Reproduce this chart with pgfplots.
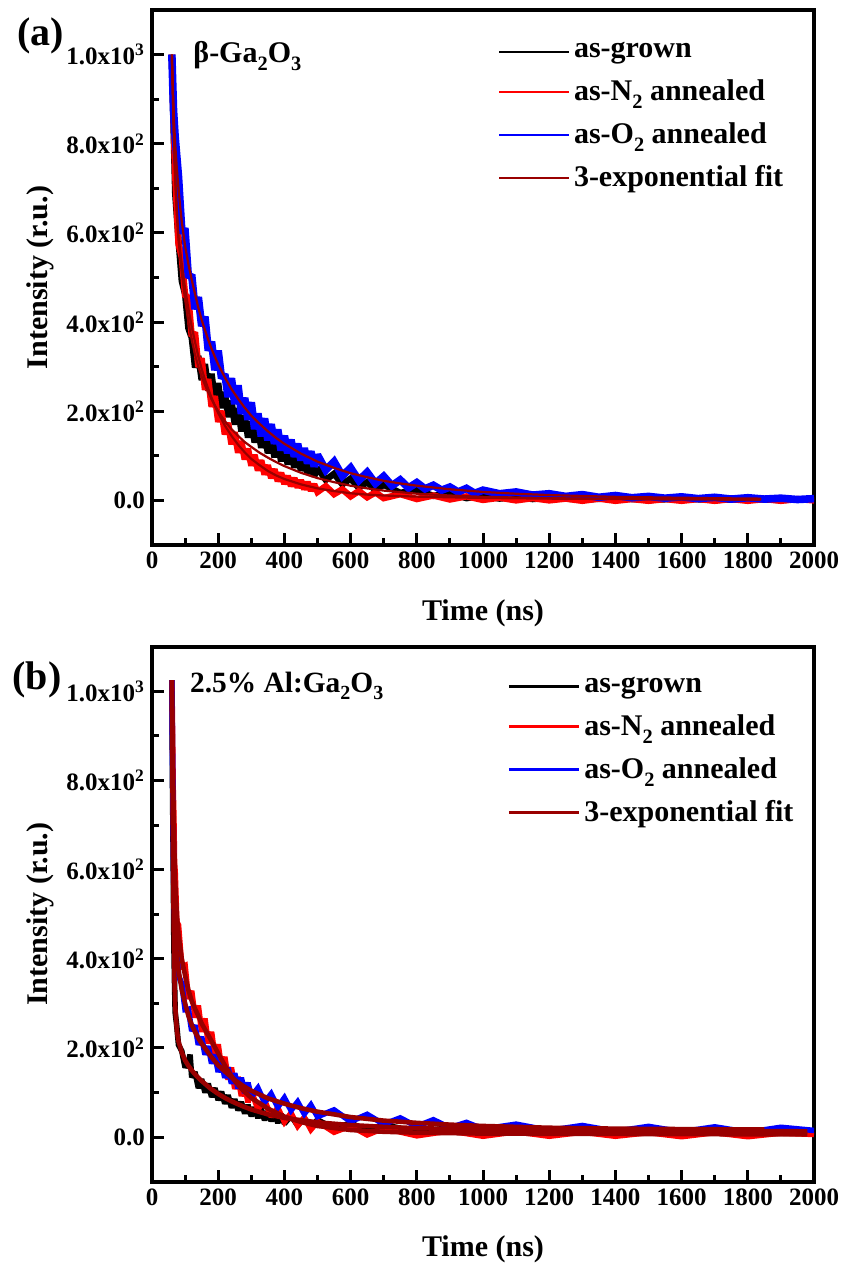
\documentclass[border=0pt]{standalone}
\usepackage{pgfplots}
\pgfplotsset{compat=1.18}
\usepackage{graphicx}
\usepackage{fontspec}
\setmainfont{Liberation Serif}
\usetikzlibrary{calc}
\definecolor{fitred}{rgb}{0.6,0,0}
\newcommand{\sub}[1]{\raisebox{-0.55ex}{\scalebox{0.68}{#1}}}
\pgfplotsset{
  tlbase/.style={
    scale only axis, width=331pt, height=267.5pt,
    xmin=0, xmax=2000, ymin=-100, ymax=1100,
    xtick={0,200,...,2000}, minor x tick num=1,
    ytick={0,200,400,600,800,1000}, minor y tick num=1,
    yticklabels={0.0,2.0x10\textsuperscript{2},4.0x10\textsuperscript{2},6.0x10\textsuperscript{2},8.0x10\textsuperscript{2},1.0x10\textsuperscript{3}},
    tick pos=left, tick align=inside,
    axis line style={line width=1.8pt},
    major tick length=6pt, minor tick length=3.5pt,
    every tick/.style={black, line width=1.5pt},
    /pgf/number format/assume math mode=true,
    /pgf/number format/1000 sep={},
    tick label style={font=\fontsize{12.5}{15}\selectfont\bfseries},
    xlabel={Time (ns)}, ylabel={Intensity (r.u.)},
    label style={font=\fontsize{15}{18}\selectfont\bfseries},
    xlabel style={at={(rel axis cs:0.5,-0.127)}, anchor=center},
    ylabel style={at={(rel axis cs:-0.169,0.5)}, anchor=center},
    legend style={draw=none, fill=none, font=\fontsize{15}{18}\selectfont\bfseries,
      row sep=5.5pt, nodes={inner sep=2pt}},
    legend cell align=left,
    data/.style={line width=3.2pt, line join=miter, miter limit=2},
    fit/.style={fitred, line join=round},
  }
}
\begin{document}
\begin{tikzpicture}
\begin{axis}[tlbase, name=a,
  legend style={at={(rel axis cs:0.513,0.955)}, anchor=north west},
  legend image code/.code={\draw[#1, line width=1pt] (0pt,0pt) -- (35pt,0pt);}]
% as-grown
\addplot[black, data] coordinates {
(60,1000)(65,840)(70,690)(80,585)(90,492)(100,462)(110,386)(120,365)(130,298)(140,324)
(150,270)(160,306)(170,246)(180,284)(190,224)(200,263)(210,207)(220,243)(230,187)(240,224)
(250,170)(260,207)(270,155)(280,190)(290,141)(300,177)(310,130)(320,163)(330,118)(340,149)
(350,106)(360,137)(370,97)(380,126)(390,88)(400,116)(410,81)(420,107)(430,74)(440,98)
(450,67)(460,89)(470,60)(480,81)(490,54)(500,73)(525,46)(550,60)(575,36)(600,49)
(625,28)(650,41)(675,23)(700,35)(750,17)(800,24)(850,10)(900,17)(950,5)(1000,11)
(1050,4)(1100,8)(1150,3)(1200,6)(1300,2)(1400,5)(1500,1)(1600,4)(1700,1)(1800,3)(1900,1)(2000,3)};
\addlegendentry{as-grown}
% N2
\addplot[red, data] coordinates {
(60,1000)(65,860)(70,730)(80,575)(90,545)(100,460)(110,455)(120,368)(130,377)(140,299)
(150,319)(160,248)(170,272)(180,210)(190,234)(200,176)(210,201)(220,148)(230,174)(240,126)
(250,153)(260,107)(270,133)(280,92)(290,116)(300,78)(310,102)(320,67)(330,90)(340,58)
(350,79)(360,50)(370,70)(380,43)(390,62)(400,37)(410,55)(420,32)(430,50)(440,29)
(450,45)(460,25)(470,41)(480,22)(490,36)(500,19)(525,32)(550,14)(575,25)(600,9)
(625,21)(650,7)(675,18)(700,5)(750,14)(800,3)(850,11)(900,2)(950,9)(1000,1)
(1050,6)(1100,0)(1150,5)(1200,0)(1250,4)(1300,-1)(1350,4)(1400,-1)(1450,3)(1500,-1)
(1550,3)(1600,-1)(1650,3)(1700,-1)(1750,3)(1800,-1)(1850,3)(1900,-1)(1950,3)(2000,0)};
\addlegendentry{as-N\sub{2} annealed}
% O2
\addplot[blue, data, line width=3.8pt] coordinates {
(60,1000)(65,875)(70,815)(80,727)(90,605)(100,604)(110,500)(120,506)(130,429)(140,456)
(150,391)(160,412)(170,336)(180,356)(190,292)(200,336)(210,274)(220,283)(230,232)(240,274)
(250,216)(260,258)(270,194)(280,230)(290,181)(300,220)(310,160)(320,195)(330,144)(340,184)
(350,135)(360,171)(370,127)(380,159)(390,112)(400,145)(410,106)(420,136)(430,98)(440,127)
(450,90)(460,117)(470,83)(480,110)(490,76)(500,102)(525,68)(550,87)(575,55)(600,73)
(625,45)(650,63)(675,38)(700,54)(725,33)(750,46)(775,28)(800,40)(825,26)(850,34)
(875,23)(900,30)(925,19)(950,27)(975,16)(1000,23)(1050,15)(1100,19)(1150,12)(1200,15)
(1250,9)(1300,13)(1350,7)(1400,11)(1450,6)(1500,9)(1550,5)(1600,8)(1650,4)(1700,7)
(1750,3)(1800,6)(1850,3)(1900,5)(1950,2)(2000,4)};
\addlegendentry{as-O\sub{2} annealed}
% fits
\addplot[fit, line width=1.1pt] coordinates {
(60,1000)(65,850)(70,715)(75,640)(80,585)(90,510)(100,450)(110,400)(120,360)(130,327)
(140,300)(150,278)(160,259)(170,242)(180,227)(190,213)(200,200)(220,178)(240,160)(260,145)
(280,131)(300,120)(325,107)(350,96)(375,86)(400,77)(450,62)(500,50)(550,41)(600,33)
(650,27)(700,22)(800,15)(900,11)(1000,8)(1200,5)(1400,3.5)(1600,2.5)(1840,2)};
\addlegendentry{3-exponential fit}
\addplot[fit, line width=1.1pt, forget plot] coordinates {
(60,1000)(65,850)(70,730)(75,650)(80,592)(90,530)(100,475)(110,430)(120,390)(130,355)
(140,323)(150,295)(160,271)(170,250)(180,230)(190,212)(200,196)(220,168)(240,145)(260,125)
(280,108)(300,93)(325,79)(350,66)(375,56)(400,48)(450,36)(500,27)(550,21)(600,16)
(650,13)(700,11)(800,8.5)(900,7)(1000,5.5)(1200,4)(1400,3)(1600,2.5)(1840,2)};
\addplot[fit, line width=1.1pt, forget plot] coordinates {
(60,1000)(63,930)(66,860)(70,800)(75,745)(80,700)(85,660)(90,625)(100,570)(110,530)
(120,495)(130,463)(140,432)(150,405)(160,382)(170,360)(180,340)(190,322)(200,305)(220,276)
(240,250)(260,228)(280,208)(300,190)(325,172)(350,155)(375,140)(400,127)(450,105)(500,87)
(550,73)(600,61)(650,52)(700,44)(750,38)(800,33)(900,25)(1000,19)(1100,15)(1200,12)
(1300,10)(1400,8)(1500,7)(1600,6)(1700,5)(1840,4)};
\node[anchor=base west, font=\fontsize{15}{18}\selectfont\bfseries, inner sep=0pt] at (rel axis cs:0.062,0.901) {β-Ga\sub{2}O\sub{3}};
\end{axis}

\begin{axis}[tlbase, name=b, at={($(a.south west)+(0,-50.85pt)$)}, anchor=north west,
  legend style={at={(rel axis cs:0.527,0.958)}, anchor=north west},
  legend image code/.code={\draw[#1, line width=1.5pt] (0pt,0pt) -- (35pt,0pt);}]
\addplot[black, data, line width=2.8pt] coordinates {
(60,1025)(62,790)(64,630)(66,440)(68,350)(70,280)(75,248)(80,207)(90,193)(100,156)
(110,170)(115,185)(120,134)(130,146)(140,110)(150,130)(160,100)(170,120)(180,90)(190,110)
(200,83)(210,102)(220,75)(230,94)(240,66)(250,85)(260,60)(270,79)(280,53)(290,72)
(300,47)(310,67)(320,43)(330,63)(340,38)(350,58)(360,36)(370,54)(380,32)(390,52)
(400,30)(420,48)(440,26)(460,43)(480,23)(500,39)(550,19)(600,32)(650,14)(700,28)
(800,12)(900,21)(1000,10)(1100,18)(1200,9)(1300,17)(1400,8)(1500,16)(1600,8)(1700,16)
(1800,7)(1900,15)(2000,12)};
\addlegendentry{as-grown}
\addplot[red, data, line width=2.8pt] coordinates {
(60,1025)(62,910)(64,780)(66,720)(68,615)(70,595)(75,482)(80,476)(90,382)(100,385)
(110,310)(120,328)(130,268)(140,295)(150,236)(160,266)(170,210)(180,236)(190,181)(200,208)
(210,155)(220,180)(230,129)(240,156)(250,108)(260,135)(270,92)(280,118)(290,78)(300,104)
(320,62)(340,83)(360,46)(380,66)(400,34)(420,54)(440,25)(460,44)(480,17)(500,35)
(550,11)(600,25)(650,5)(700,20)(800,3)(900,14)(1000,2)(1100,12)(1200,2)(1300,11)
(1400,2)(1500,10)(1600,1)(1700,10)(1800,1)(1900,9)(2000,6)};
\addlegendentry{as-N\sub{2} annealed}
\addplot[blue, data, line width=2.8pt] coordinates {
(60,1025)(62,840)(64,700)(66,560)(68,505)(70,445)(75,418)(80,362)(90,344)(100,286)
(110,287)(120,238)(130,251)(140,207)(150,225)(160,185)(170,204)(180,165)(190,185)(200,146)
(210,169)(220,133)(230,156)(240,120)(250,143)(260,109)(270,133)(280,99)(290,122)(300,91)
(320,110)(340,78)(360,97)(380,67)(400,88)(420,60)(440,79)(460,52)(480,72)(500,46)
(550,61)(600,35)(650,51)(700,29)(750,43)(800,24)(850,39)(900,21)(950,33)(1000,18)
(1100,29)(1200,15)(1300,26)(1400,13)(1500,24)(1600,12)(1700,23)(1800,11)(1900,22)(2000,15)};
\addlegendentry{as-O\sub{2} annealed}
\addplot[fit, line width=2.3pt] coordinates {
(60,1025)(62,780)(64,590)(66,450)(68,350)(70,295)(75,240)(80,215)(90,190)(100,172)
(110,160)(120,150)(130,141)(140,133)(150,126)(175,110)(200,97)(225,86)(250,77)(275,69)
(300,62)(350,51)(400,43)(500,33)(600,27)(700,23)(800,20)(1000,17)(1200,15)(1500,14)(1980,13)};
\addlegendentry{3-exponential fit}
\addplot[fit, line width=2.3pt, forget plot] coordinates {
(60,1025)(62,900)(64,790)(66,700)(68,630)(70,575)(75,500)(80,455)(90,400)(100,362)
(110,330)(120,305)(130,288)(140,272)(150,255)(175,222)(200,188)(225,154)(250,126)(275,105)
(300,88)(350,64)(400,46)(450,34)(500,25)(600,16)(700,12)(800,10)(1000,8)(1200,7.5)(1500,7)(1980,6)};
\addplot[fit, line width=2.3pt, forget plot] coordinates {
(60,1025)(62,850)(64,690)(66,570)(68,495)(70,455)(75,405)(80,375)(90,330)(100,300)
(110,272)(120,252)(130,236)(140,222)(150,210)(175,184)(200,161)(225,144)(250,128)(275,115)
(300,104)(350,87)(400,75)(450,65)(500,57)(600,45)(700,37)(800,32)(900,28)(1000,25)
(1200,21)(1400,19)(1600,18)(1850,17)};
\node[anchor=base west, font=\fontsize{14.7}{18}\selectfont\bfseries, inner sep=0pt] at (rel axis cs:0.057,0.915) {2.5\% Al:Ga\sub{2}O\sub{3}};
\end{axis}
\node[font=\fontsize{20}{24}\selectfont\bfseries, inner sep=0pt] at ($(a.north west)+(-55.5pt,-13pt)$) {(a)};
\node[font=\fontsize{20}{24}\selectfont\bfseries, inner sep=0pt] at ($(b.north west)+(-57.5pt,-16.7pt)$) {(b)};
\pgfresetboundingbox
\path ($(a.north west)+(-76pt,5pt)$) rectangle ++(420.5pt,-632pt);
\end{tikzpicture}
\end{document}
